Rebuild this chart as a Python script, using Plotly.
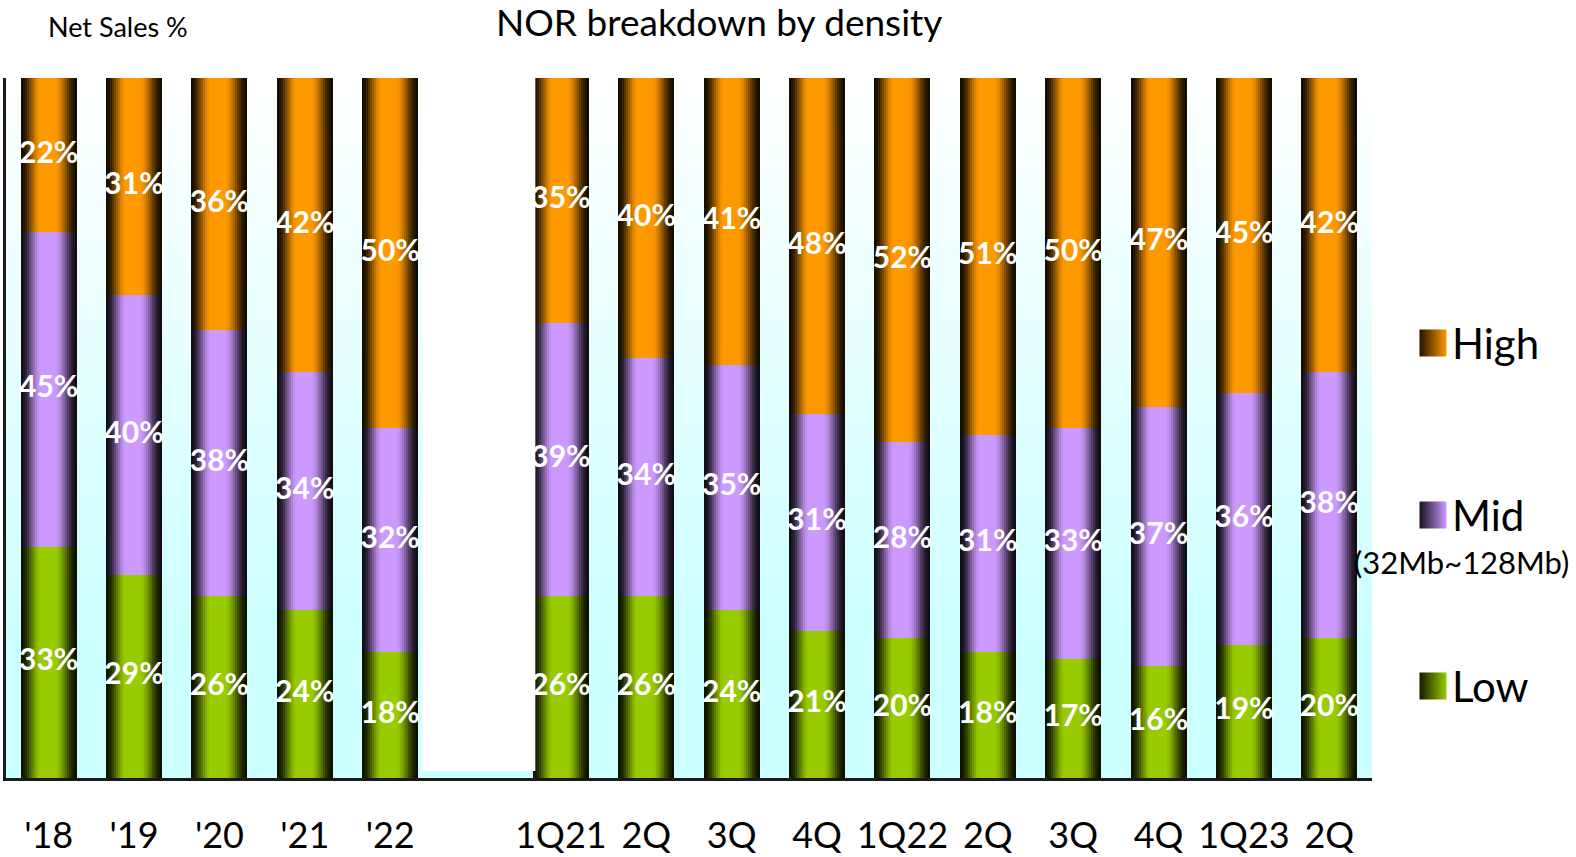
import plotly.graph_objects as go

# ---- data -------------------------------------------------------------
periods = ["'18", "'19", "'20", "'21", "'22",
           "1Q21", "2Q", "3Q", "4Q", "1Q22", "2Q", "3Q", "4Q", "1Q23", "2Q"]
low = [33, 29, 26, 24, 18, 26, 26, 24, 21, 20, 18, 17, 16, 19, 20]
mid = [45, 40, 38, 34, 32, 39, 34, 35, 31, 28, 31, 33, 37, 36, 38]
high = [22, 31, 36, 42, 50, 35, 40, 41, 48, 52, 51, 50, 47, 45, 42]
series_names = ["Low", "Mid", "High"]
n_annual = 5

# ---- styling ----------------------------------------------------------
W, H = 1576, 857
ML, MR, MT, MB = 6, 0, 78, 79
PLOT_W = 1366          # width of the bar area in pixels
FONT = "Lato"
base_rgb = {"Low": (153, 204, 0), "Mid": (204, 153, 255), "High": (255, 153, 0)}
BAR_W = 0.656
N_STRIPS = 28
N_BANDS = 70

# slot positions: annual bars, one empty slot, then the quarterly bars
xpos = [i if i < n_annual else i + 1 for i in range(len(periods))]
x_lo, x_hi = -0.5, xpos[-1] + 0.5


def smooth(u):
    u = max(0.0, min(1.0, u))
    return u * u * (3 - 2 * u)


def profile(t):
    """Brightness across a bar: dark edges, bright band left of centre."""
    if t < 0.36:
        return 0.08 + 0.92 * smooth(t / 0.36)
    if t > 0.60:
        return 0.08 + 0.92 * smooth((1 - t) / 0.40)
    return 1.0


def shade(rgb, f):
    return "rgb(%d,%d,%d)" % tuple(round(c * f) for c in rgb)


def px_x(px):
    return (px - ML) / (W - ML - MR)


def px_y(py):
    return (H - MB - py) / (H - MT - MB)


fig = go.Figure()

# stacked bars, each drawn as thin vertical strips for a cylinder look
values = {"Low": low, "Mid": mid, "High": high}
bases = {}
running = [0] * len(periods)
for name in series_names:
    bases[name] = list(running)
    running = [r + v for r, v in zip(running, values[name])]

sw = BAR_W / N_STRIPS
for name in series_names:
    for i in range(N_STRIPS):
        t = (i + 0.5) / N_STRIPS
        last = i == N_STRIPS - 1
        fig.add_trace(go.Bar(
            x=xpos, y=values[name], base=bases[name],
            offset=-BAR_W / 2 + i * sw,
            width=sw if last else sw * 1.25,
            marker=dict(color=shade(base_rgb[name], profile(t)),
                        line=dict(width=0)),
            hoverinfo="skip", showlegend=False))

# percentage labels centred in each segment
for name in series_names:
    fig.add_trace(go.Scatter(
        x=xpos,
        y=[b + v / 2 for b, v in zip(bases[name], values[name])],
        text=[f"{v}%" for v in values[name]],
        mode="text", textposition="middle center",
        textfont=dict(family=FONT, size=30, color="white", weight="bold"),
        cliponaxis=False, hoverinfo="skip", showlegend=False))

# legend swatches on a pixel-space overlay axis in the right margin
leg_y = {"High": 343, "Mid": 515, "Low": 686}
for name in ["High", "Mid", "Low"]:
    fig.add_trace(go.Scatter(
        x=[1433], y=[leg_y[name]], xaxis="x2", yaxis="y2",
        mode="markers",
        marker=dict(symbol="square", size=27,
                    color=shade(base_rgb[name], 0.12),
                    gradient=dict(type="horizontal",
                                  color=shade(base_rgb[name], 1.0)),
                    line=dict(width=0)),
        cliponaxis=False, hoverinfo="skip", showlegend=False))

annotations = [
    dict(xref="paper", yref="paper", x=px_x(719), y=px_y(22),
         text="NOR breakdown by density", showarrow=False,
         font=dict(family=FONT, size=37, color="black"),
         xanchor="center", yanchor="middle"),
    dict(xref="paper", yref="paper", x=px_x(118), y=px_y(27),
         text="Net Sales %", showarrow=False,
         font=dict(family=FONT, size=27, color="black"),
         xanchor="center", yanchor="middle"),
]
for name in ["High", "Mid", "Low"]:
    annotations.append(dict(
        xref="x2", yref="y2", x=1450, y=leg_y[name], text=name,
        showarrow=False, font=dict(family=FONT, size=42, color="black"),
        xanchor="left", yanchor="middle"))
annotations.append(dict(
    xref="x2", yref="y2", x=1461, y=562, text="(32Mb~128Mb)",
    showarrow=False, font=dict(family=FONT, size=31, color="black"),
    xanchor="center", yanchor="middle"))

# plot-area background: bands fading from white at the top to pale cyan
shapes = []
band_h = 100 / N_BANDS
for k in range(N_BANDS):
    depth = min(1.0, (k + 0.5) / N_BANDS / 0.8)   # 0 at top, 1 near bottom
    r = round(255 - (255 - 204) * depth)
    shapes.append(dict(
        type="rect", xref="x", yref="y", layer="below",
        x0=x_lo, x1=x_hi,
        y0=100 - (k + 1) * band_h, y1=100 - k * band_h + 0.05,
        fillcolor=f"rgb({r},255,255)", line=dict(width=0)))
# blank separator between the annual and quarterly groups
shapes.append(dict(
    type="rect", xref="x", yref="y",
    x0=n_annual - 0.63, x1=n_annual + 0.70, y0=1, y1=100,
    fillcolor="white", line=dict(width=0), layer="above"))

fig.update_layout(
    width=W, height=H,
    margin=dict(l=ML, r=MR, t=MT, b=MB, autoexpand=False),
    paper_bgcolor="white", plot_bgcolor="white",
    barmode="overlay", bargap=0,
    showlegend=False,
    xaxis=dict(domain=[0, PLOT_W / (W - ML - MR)], range=[x_lo, x_hi],
               tickvals=xpos, ticktext=periods,
               tickfont=dict(family=FONT, size=36, color="black"),
               ticks="outside", ticklen=24, tickcolor="rgba(0,0,0,0)",
               showline=True, linecolor="#1a1a1a", linewidth=3,
               showgrid=False, zeroline=False, fixedrange=True,
               automargin=False),
    yaxis=dict(range=[0, 100], showticklabels=False, ticks="",
               showline=True, linecolor="#1a1a1a", linewidth=3,
               showgrid=False, zeroline=False, fixedrange=True,
               automargin=False),
    xaxis2=dict(domain=[PLOT_W / (W - ML - MR), 1], anchor="y2",
                range=[ML + PLOT_W, W], visible=False, fixedrange=True),
    yaxis2=dict(domain=[0, 1], anchor="x2",
                range=[H - MB, MT], visible=False, fixedrange=True),
    shapes=shapes,
    annotations=annotations,
)

fig.write_html("out.html")
